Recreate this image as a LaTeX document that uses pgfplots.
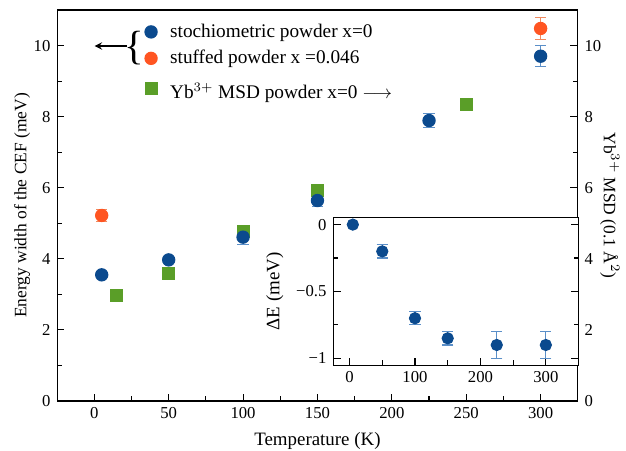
\documentclass[border=0pt]{standalone}
\usepackage{pgfplots}
\pgfplotsset{compat=1.18}
\usepackage{fontspec}
\setmainfont{Liberation Serif}
\definecolor{cblue}{HTML}{0B4A8E}
\definecolor{cblueL}{HTML}{5B8FC8}
\definecolor{corange}{HTML}{FF5522}
\definecolor{corangeL}{HTML}{F08A60}
\definecolor{cgreen}{HTML}{5A9E28}
\pgfplotsset{
  /pgf/number format/assume math mode=true,
  every axis/.append style={
    tick label style={font=\fontsize{9}{10}\selectfont},
    label style={font=\fontsize{10.2}{12}\selectfont},
    major tick length=4pt, minor tick length=2.5pt,
    tick align=inside, line width=0.6pt,
    every tick/.style={line width=0.6pt},
  }
}
\begin{document}
\begin{tikzpicture}
\begin{axis}[name=main, scale only axis, width=281pt, height=211pt,
  xmin=-25, xmax=325, ymin=0, ymax=11,
  xtick={0,50,...,300}, minor xtick={25,75,...,275},
  ytick={0,2,...,10}, minor ytick={1,3,...,9},
  xtick pos=bottom, ytick pos=left,
  xlabel={Temperature (K)}, ylabel={Energy width of the CEF (meV)},
  ylabel style={font=\fontsize{9.4}{11}\selectfont, yshift=-5pt},
  legend style={at={(rel axis cs:0.157,0.985)}, anchor=north west, draw=none, fill=none,
    font=\fontsize{10.4}{12}\selectfont, row sep=1.5pt},
  legend cell align=left,
]
\addplot[only marks, mark=square*, mark size=3.2pt, color=cgreen, forget plot]
  coordinates {(15,2.97) (50,3.58) (100,4.77) (150,5.92) (250,8.35)};
\addplot[only marks, mark=*, mark size=3.3pt, color=cblue,
  error bars/.cd, y dir=both, y explicit,
  error bar style={color=cblueL, line width=0.6pt},
  error mark options={rotate=90, mark size=3pt, color=cblueL, line width=0.6pt}]
  coordinates {(5,3.55) +- (0,0.05) (50,3.97) +- (0,0.05) (100,4.61) +- (0,0.2)
    (150,5.64) +- (0,0.17) (225,7.89) +- (0,0.2) (300,9.7) +- (0,0.3)};
\addlegendentry{\hspace{5pt}stochiometric powder x=0}
\addplot[only marks, mark=*, mark size=3.3pt, color=corange,
  error bars/.cd, y dir=both, y explicit,
  error bar style={color=corangeL, line width=0.6pt},
  error mark options={rotate=90, mark size=3pt, color=corangeL, line width=0.6pt}]
  coordinates {(5,5.22) +- (0,0.16) (300,10.48) +- (0,0.3)};
\addlegendentry{\hspace{5pt}stuffed powder x =0.046}
\addlegendimage{only marks, mark=square*, mark size=3.2pt, color=cgreen}
\addlegendentry{\hspace{5pt}\rule[-1pt]{0pt}{12.5pt}Yb$^{3+}$ MSD powder x=0 $\longrightarrow$}
\draw[->, >=stealth, line width=0.8pt] (rel axis cs:0.135,0.908) -- (rel axis cs:0.072,0.908);
\node[font=\fontsize{22}{22}\selectfont, inner sep=0pt] at (rel axis cs:0.149,0.903) {\{};
\end{axis}
\begin{axis}[scale only axis, width=281pt, height=211pt, clip=false,
  xmin=-25, xmax=325, ymin=0, ymax=11,
  axis x line=none, axis y line*=right,
  ytick={0,2,...,10}, minor ytick={1,3,...,9},
]
\node[rotate=-90, font=\fontsize{9.4}{11}\selectfont] at (axis cs:346.5,5.5) {Yb$^{3+}$ MSD (0.1 Å$^2$)};
\end{axis}
\begin{axis}[scale only axis, at={(main.south west)}, anchor=south west,
  xshift=149pt, yshift=19.4pt, width=132.4pt, height=79.4pt,
  xmin=-25, xmax=350, ymin=-1.05, ymax=0.05,
  axis background/.style={fill=white},
  xtick={0,100,200,300}, minor xtick={50,150,250},
  ytick={-1,-0.5,0}, yticklabels={−1,−0.5,0}, minor ytick={-0.75,-0.25},
  xtick pos=bottom,
  ylabel={ΔE (meV)},
]
\addplot[only marks, mark=*, mark size=3pt, color=cblue,
  error bars/.cd, y dir=both, y explicit,
  error bar style={color=cblueL, line width=0.6pt},
  error mark options={rotate=90, mark size=3pt, color=cblueL, line width=0.6pt}]
  coordinates {(5,0) +- (0,0) (50,-0.2) +- (0,0.05) (100,-0.7) +- (0,0.05)
    (150,-0.85) +- (0,0.05) (225,-0.9) +- (0,0.1) (300,-0.9) +- (0,0.1)};
\end{axis}
\pgfresetboundingbox
\path ([shift={(-30.8pt,-26.5pt)}]main.south west) rectangle ([shift={(26pt,5.4pt)}]main.north east);
\end{tikzpicture}
\end{document}
